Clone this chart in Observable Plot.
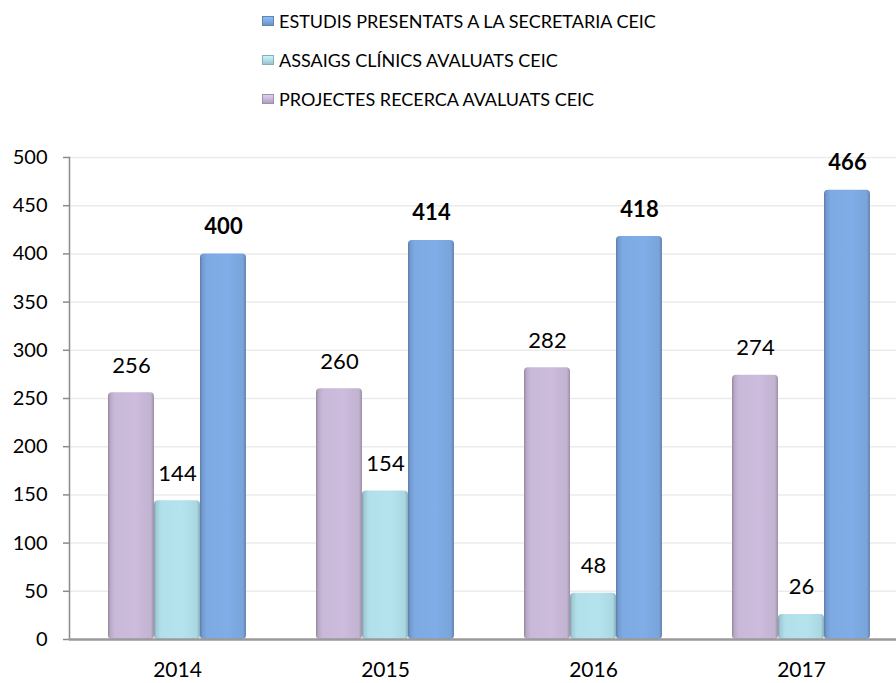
<!DOCTYPE html>
<html><head><meta charset="utf-8">
<script src="https://cdn.jsdelivr.net/npm/d3@7"></script>
<script src="https://cdn.jsdelivr.net/npm/@observablehq/plot@0.6"></script>
<style>
body{margin:0;background:#fff;font-family:Lato, "Open Sans", sans-serif;}
#legend{position:relative;height:125px;width:896px;}
.item{position:absolute;left:262px;display:flex;align-items:center;font-size:18px;color:#000;line-height:20px;}
.sw{width:12px;height:10px;margin-right:5px;box-sizing:border-box;}
#chart svg{display:block;}
</style>
</head><body>
<div id="legend"></div>
<div id="chart"></div>
<script>
const years = ["2014", "2015", "2016", "2017"];
const seriesNames = ["PROJECTES RECERCA AVALUATS CEIC", "ASSAIGS CLÍNICS AVALUATS CEIC", "ESTUDIS PRESENTATS A LA SECRETARIA CEIC"];
const projectes = [256, 260, 282, 274];
const assaigs = [144, 154, 48, 26];
const estudis = [400, 414, 418, 466];
const yTicks = [0, 50, 100, 150, 200, 250, 300, 350, 400, 450, 500];
const baseColors = ["#c9b9d9", "#b1dfea", "#7eaae3"];
const legendOrder = [2, 1, 0];

const seriesValues = [projectes, assaigs, estudis];
const data = [];
years.forEach((y, i) => seriesNames.forEach((s, j) => data.push({year: y, series: s, value: seriesValues[j][i], idx: j})));

// legend
const legend = document.getElementById("legend");
legendOrder.forEach((j, r) => {
  const c = d3.color(baseColors[j]);
  const it = document.createElement("div");
  it.className = "item";
  it.style.top = (11 + r * 39) + "px";
  const sw = document.createElement("span");
  sw.className = "sw";
  sw.style.background = `linear-gradient(180deg, ${c.brighter(0.3)} 0%, ${c} 50%, ${c.darker(0.4)} 100%)`;
  sw.style.border = `1px solid ${c.darker(0.7)}`;
  it.appendChild(sw);
  it.appendChild(document.createTextNode(seriesNames[j]));
  legend.appendChild(it);
});

const plot = Plot.plot({
  width: 896,
  height: 558,
  marginTop: 32,
  marginBottom: 44,
  marginLeft: 72,
  marginRight: -9,
  style: {fontFamily: "Lato, 'Open Sans', sans-serif", fontSize: "20px", color: "#000", background: "transparent"},
  fx: {domain: years, paddingInner: 0, paddingOuter: 0, label: null},
  x: {domain: seriesNames, paddingInner: 0, paddingOuter: 0.76, axis: null},
  y: {domain: [0, 500], label: null},
  color: {domain: seriesNames, range: seriesNames.map((d, i) => `url(#grad${i})`)},
  marks: [
    Plot.axisY({ticks: yTicks.slice(1), tickSize: -832, stroke: "#ebebeb", strokeWidth: 1.5, tickFormat: () => "", dx: -4, label: null}),
    Plot.axisY({ticks: yTicks, tickSize: 6, stroke: "#8c8c8c", strokeWidth: 1.5, tickPadding: 16, fontSize: 20, dx: -4, label: null}),
    Plot.frame({anchor: "left", facetAnchor: "left", stroke: "#8c8c8c", strokeWidth: 1.5, dx: -4}),
    Plot.barY(data, {fx: "year", x: "series", y: "value", fill: "series", rx: 4, ry: 4}),
    Plot.axisY({ticks: [0], tickSize: -832, stroke: "#9a9a9a", strokeWidth: 2.5, tickFormat: () => "", dx: -4, label: null}),
    Plot.text(data.filter(d => d.idx < 2), {fx: "year", x: "series", y: "value", text: d => String(d.value), dy: -27, fontSize: 22, fill: "#000"}),
    Plot.text(data.filter(d => d.idx === 2), {fx: "year", x: "series", y: "value", text: d => String(d.value), dy: -27, fontSize: 22, fontWeight: "bold", fill: "#000"}),
    Plot.axisFx({anchor: "bottom", tickSize: 0, tickPadding: 23, fontSize: 21, label: null})
  ]
});

// gradient definitions for the bars
const svg = d3.select(plot);
const defs = svg.insert("defs", ":first-child");
baseColors.forEach((col, i) => {
  const c = d3.color(col);
  const g = defs.append("linearGradient").attr("id", `grad${i}`).attr("x1", "0").attr("x2", "1").attr("y1", "0").attr("y2", "0");
  [[0, c.darker(0.9)], [0.05, c.darker(0.25)], [0.15, c], [0.6, c.brighter(0.05)], [0.93, c.darker(0.1)], [1, c.darker(0.7)]]
    .forEach(([o, cc]) => g.append("stop").attr("offset", o).attr("stop-color", cc.formatHex()));
});
document.getElementById("chart").appendChild(plot);
</script>
</body></html>
